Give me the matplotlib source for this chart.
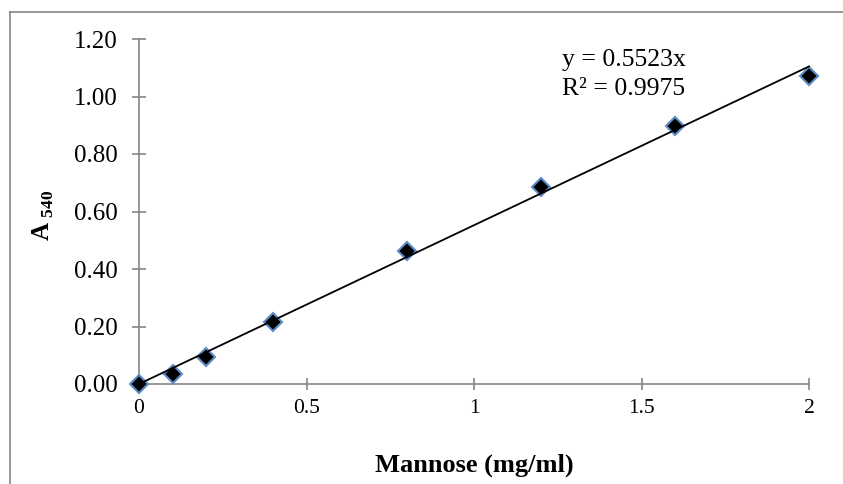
import numpy as np
import matplotlib
matplotlib.use("Agg")
import matplotlib.pyplot as plt
from matplotlib.lines import Line2D

# standard curve data
conc = [0, 0.1, 0.2, 0.4, 0.8, 1.2, 1.6, 2.0]
absorb = [0.0, 0.035, 0.093, 0.217, 0.463, 0.685, 0.897, 1.071]
slope = 0.5523
r2 = 0.9975
xticks = [0, 0.5, 1, 1.5, 2]
yticks = [0.0, 0.2, 0.4, 0.6, 0.8, 1.0, 1.2]

plt.rcParams["font.family"] = ["Liberation Serif", "DejaVu Serif"]
plt.rcParams["mathtext.fontset"] = "custom"
plt.rcParams["mathtext.rm"] = "Liberation Serif"
plt.rcParams["mathtext.bf"] = "Liberation Serif:bold"

grey = "#868686"

fig = plt.figure(figsize=(8.43, 4.84), dpi=100)
ax = fig.add_axes([139 / 843, 100 / 484, 670 / 843, 345 / 484])

# outer chart frame (left and top edges visible)
fig.add_artist(Line2D([10 / 843, 10 / 843], [0, 1 - 12 / 484], transform=fig.transFigure,
                      color=grey, lw=1.2))
fig.add_artist(Line2D([10 / 843, 1], [1 - 12 / 484, 1 - 12 / 484], transform=fig.transFigure,
                      color=grey, lw=1.2))

ax.plot(conc, absorb, linestyle="none", marker="D", markersize=9,
        markerfacecolor="black", markeredgecolor="#5b8cc8", markeredgewidth=1.5,
        zorder=3, clip_on=False)

xfit = np.array([0, max(conc)])
ax.plot(xfit, slope * xfit, color="black", lw=1.3, zorder=4, clip_on=False)

ax.set_xlim(0, 2)
ax.set_ylim(0, 1.2)
ax.set_xticks(xticks)
ax.set_xticklabels([f"{t:g}" for t in xticks])
ax.set_yticks(yticks)
ax.set_yticklabels([f"{t:.2f}" for t in yticks])

for s in ["top", "right"]:
    ax.spines[s].set_visible(False)
for s in ["left", "bottom"]:
    ax.spines[s].set_color(grey)
    ax.spines[s].set_linewidth(1.2)

ax.tick_params(axis="y", direction="inout", length=10, width=1.2, color=grey,
               labelsize=18, pad=10.5)
ax.tick_params(axis="x", direction="inout", length=9, width=1.2, color=grey,
               labelsize=15.5, pad=6)

ax.set_xlabel("Mannose (mg/ml)", fontsize=19, fontweight="bold", va="center")
ax.xaxis.set_label_coords(0.5, -0.235)
ax.set_ylabel(r"$\mathbf{A}_{\ \mathbf{540}}$", fontsize=18, va="center")
ax.yaxis.set_label_coords(-0.142, 0.49)

ax.text(1.263, 1.165, f"y = {slope}x\nR\u00b2 = {r2}", fontsize=18.5,
        va="top", ha="left", linespacing=1.4)

fig.savefig("out.png", dpi=100)
